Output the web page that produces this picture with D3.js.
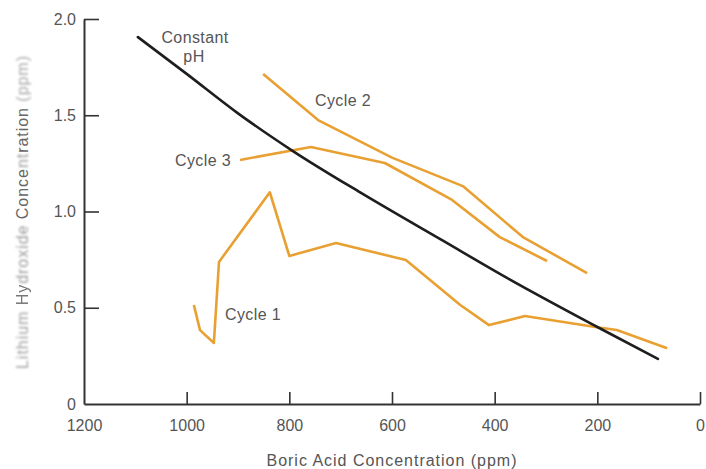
<!DOCTYPE html>
<html>
<head>
<meta charset="utf-8">
<script src="https://cdn.jsdelivr.net/npm/d3@7"></script>
<style>
  html, body { margin: 0; padding: 0; background: #fff; }
  svg { display: block; }
  text { font-family: "Liberation Sans", "DejaVu Sans", sans-serif; }
</style>
</head>
<body>
<svg id="chart" width="706" height="469"></svg>
<script>
// Boric acid (ppm) vs lithium hydroxide (ppm)
const constantPhPpm = [1095, 1000, 900, 793, 662, 500, 376, 200, 82];
const constantPhLi  = [1.906, 1.715, 1.51, 1.314, 1.099, 0.847, 0.655, 0.40, 0.234];

const cycle1Ppm = [986, 974, 947, 937, 838, 800, 709, 573, 467, 411, 341, 204, 162, 64];
const cycle1Li  = [0.514, 0.384, 0.317, 0.738, 1.10, 0.769, 0.836, 0.748, 0.514, 0.41, 0.457, 0.40, 0.384, 0.29];

const cycle2Ppm = [851, 744, 600, 462, 345, 220];
const cycle2Li  = [1.714, 1.475, 1.28, 1.132, 0.867, 0.68];

const cycle3Ppm = [896, 758, 614, 483, 390, 298];
const cycle3Li  = [1.268, 1.335, 1.252, 1.06, 0.867, 0.743];

const xTicks = [1200, 1000, 800, 600, 400, 200, 0];
const yTicks = [0, 0.5, 1.0, 1.5, 2.0];
const yTickLabels = ["0", "0.5", "1.0", "1.5", "2.0"];

const svg = d3.select("#chart");

const x = d3.scaleLinear().domain([1200, 0]).range([84, 700]);
const y = d3.scaleLinear().domain([0, 2]).range([404, 19]);

const textColor = "#555";
const axisColor = "#333";

// Stretch a text element to a given width through letter-spacing
function fitWidth(sel, width) {
  const n = sel.text().length;
  const w = sel.node().getComputedTextLength();
  sel.style("letter-spacing", ((width - w) / (n - 1)) + "px");
}

// Axes with inward ticks
const xAxis = d3.axisBottom(x)
  .tickValues(xTicks)
  .tickFormat(d3.format("d"))
  .tickSize(-12)
  .tickSizeOuter(0)
  .tickPadding(16);

const yAxis = d3.axisLeft(y)
  .tickValues(yTicks)
  .tickFormat((d, i) => yTickLabels[i])
  .tickSize(-15)
  .tickSizeOuter(0)
  .tickPadding(8);

const gx = svg.append("g").attr("transform", "translate(0,404)").call(xAxis);
const gy = svg.append("g").attr("transform", "translate(84,0)").call(yAxis);

[gx, gy].forEach(g => {
  g.select(".domain").attr("stroke", axisColor).attr("stroke-width", 2);
  g.selectAll(".tick line").attr("stroke", axisColor).attr("stroke-width", 1.6);
  g.selectAll(".tick text")
    .attr("fill", textColor)
    .style("font-size", "16px")
    .style("font-family", "'Liberation Sans', sans-serif");
});
gx.selectAll(".tick").filter(d => d === 1200).select("line").remove();
gy.selectAll(".tick").filter(d => d === 0).select("line").remove();

// Axis titles
const xTitle = svg.append("text")
  .attr("x", x(600))
  .attr("y", 466)
  .attr("text-anchor", "middle")
  .attr("fill", textColor)
  .style("font-size", "16px")
  .text("Boric Acid Concentration (ppm)");
fitWidth(xTitle, 250);

// Vertical title; some parts of it are faded and soft
const defs = svg.append("defs");
[0.5, 0.9, 1.3].forEach((s, i) => {
  defs.append("filter").attr("id", "soft" + i)
    .attr("x", "-20%").attr("y", "-50%").attr("width", "140%").attr("height", "200%")
    .append("feGaussianBlur").attr("stdDeviation", s);
});
const yTitleText = "Lithium Hydroxide Concentration (ppm)";
const ySegments = [
  { start: 0,  end: 7,  f: 2,    c: "#a0a0a0" },  // Lithium
  { start: 8,  end: 10, f: 0,    c: "#777" },     // Hy
  { start: 10, end: 17, f: 1,    c: "#9a9a9a" },  // droxide
  { start: 18, end: 23, f: null, c: "#666" },     // Conce
  { start: 23, end: 25, f: 1,    c: "#9a9a9a" },  // nt
  { start: 25, end: 31, f: null, c: "#666" },     // ration
  { start: 32, end: 37, f: 2,    c: "#a8a8a8" }   // (ppm)
];
const yTitle = svg.append("g").attr("transform", "translate(28,369) rotate(-90)");
// layout reference, not shown
const measure = yTitle.append("text")
  .attr("x", 0).attr("y", 0)
  .style("font-size", "16px")
  .attr("fill", "none")
  .text(yTitleText);
fitWidth(measure, 313);
const ls = measure.style("letter-spacing");
ySegments.forEach(seg => {
  const pos = measure.node().getStartPositionOfChar(seg.start).x;
  const t = yTitle.append("text")
    .attr("x", pos)
    .attr("y", 0)
    .attr("fill", seg.c)
    .style("font-size", "16px")
    .style("letter-spacing", ls)
    .text(yTitleText.slice(seg.start, seg.end));
  if (seg.f !== null) t.attr("filter", `url(#soft${seg.f})`);
});
measure.remove();

// Curves
const line = d3.line().x(d => x(d[0])).y(d => y(d[1]));
const smooth = d3.line().x(d => x(d[0])).y(d => y(d[1])).curve(d3.curveMonotoneX);
const zipPts = (a, b) => a.map((v, i) => [v, b[i]]);
const orange = "#E9A032";

[[cycle1Ppm, cycle1Li], [cycle2Ppm, cycle2Li], [cycle3Ppm, cycle3Li]].forEach(([px, py]) => {
  svg.append("path")
    .attr("d", line(zipPts(px, py)))
    .attr("fill", "none")
    .attr("stroke", orange)
    .attr("stroke-width", 2.6)
    .attr("stroke-linejoin", "round");
});

svg.append("path")
  .attr("d", smooth(zipPts(constantPhPpm, constantPhLi)))
  .attr("fill", "none")
  .attr("stroke", "#1e1e1e")
  .attr("stroke-width", 2.6)
  .attr("stroke-linecap", "round");

// Curve labels
const labels = [
  { t: "Constant", x: 195, y: 43 },
  { t: "pH", x: 194, y: 62 },
  { t: "Cycle 2", x: 343, y: 106 },
  { t: "Cycle 3", x: 203, y: 166 },
  { t: "Cycle 1", x: 253, y: 320 }
];
svg.selectAll(".curve-label").data(labels).enter().append("text")
  .attr("class", "curve-label")
  .attr("x", d => d.x)
  .attr("y", d => d.y)
  .attr("text-anchor", "middle")
  .attr("fill", textColor)
  .style("font-size", "16px")
  .style("letter-spacing", "0.4px")
  .text(d => d.t);
</script>
</body>
</html>
